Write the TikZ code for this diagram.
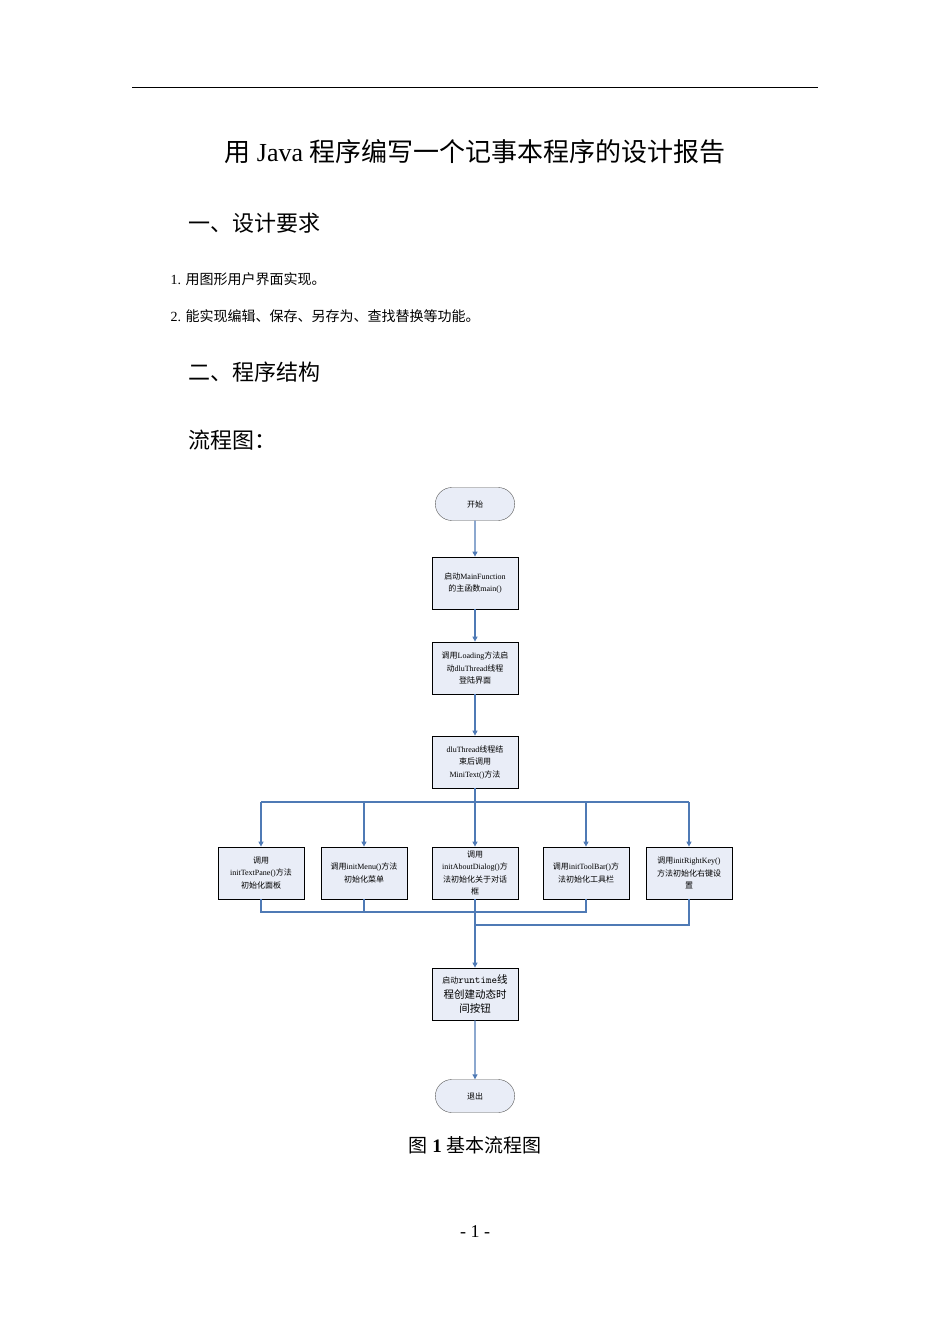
\documentclass[tikz,border=0pt]{standalone}
\usepackage{fontspec}
\setmainfont{Liberation Serif}
\newfontfamily\cjk{Noto Sans CJK SC}
\usetikzlibrary{arrows.meta,shapes.misc}
\newcommand{\LL}[1]{{\rmfamily #1}}
\definecolor{lnc}{HTML}{4F7AB5}
\definecolor{fillc}{HTML}{E9EDF7}
\begin{document}
\begin{tikzpicture}[x=1pt,y=-1pt,
  fl/.style={draw=black,fill=fillc,line width=0.8pt,minimum width=86pt,minimum height=52pt,align=center,font=\cjk\fontsize{8}{12.5}\selectfont,inner sep=1pt},
  term/.style={draw=gray!70!black,fill=fillc,rounded rectangle,minimum width=86pt,minimum height=33pt,font=\cjk\fontsize{8}{10}\selectfont},
  con/.style={draw=lnc,line width=1.1pt},
  arr/.style={con,-{Triangle[width=5pt,length=5pt]}}]
\useasboundingbox (0,0) rectangle (950,1344);
\draw[line width=0.8pt] (132,87) -- (818,87);
\node (title) at (475,152) {\cjk\fontsize{26}{30}\selectfont 用\LL{ Java }程序编写一个记事本程序的设计报告};
\node[anchor=west] (h1) at (185,223) {\cjk\fontsize{22}{26}\selectfont 一、设计要求};
\node[anchor=west] (l1) at (167,279) {\cjk\fontsize{14}{18}\selectfont\LL{1. }用图形用户界面实现。};
\node[anchor=west] (l2) at (167,316) {\cjk\fontsize{14}{18}\selectfont\LL{2. }能实现编辑、保存、另存为、查找替换等功能。};
\node[anchor=west] (h2) at (185,372) {\cjk\fontsize{22}{26}\selectfont 二、程序结构};
\node[anchor=west] (h3) at (185,440) {\cjk\fontsize{22}{26}\selectfont 流程图：};

\node[term] (s) at (475,504) {开始};
\node[fl] (b1) at (475,583) {启动\LL{MainFunction}\\的主函数\LL{main()}};
\node[fl] (b2) at (475,668) {调用\LL{Loading}方法启\\动\LL{dluThread}线程\\登陆界面};
\node[fl] (b3) at (475,762) {\LL{dluThread}线程结\\束后调用\\\LL{MiniText()}方法};
\node[fl] (c1) at (261,873) {调用\\\LL{initTextPane()}方法\\初始化面板};
\node[fl] (c2) at (364,873) {调用\LL{initMenu()}方法\\初始化菜单};
\node[fl] (c3) at (475,873) {调用\\\LL{initAboutDialog()}方\\法初始化关于对话\\框};
\node[fl] (c4) at (586,873) {调用\LL{initToolBar()}方\\法初始化工具栏};
\node[fl] (c5) at (689,873) {调用\LL{initRightKey()}\\方法初始化右键设\\置};
\node[fl,font=\cjk\fontsize{10.5}{14.5}\selectfont] (r) at (475,994) {{\fontsize{8}{10}\selectfont 启动}\texttt{runtime}线\\程创建动态时\\间按钮};
\node[term] (e) at (475,1096) {退出};

\draw[arr] (s) -- (b1);
\draw[arr] (b1) -- (b2);
\draw[arr] (b2) -- (b3);
\coordinate (sp) at (475,802);
\draw[con] (b3) -- (sp);
\draw[con] (261,802) -- (689,802);
\foreach \c in {c1,c2,c3,c4,c5} \draw[arr] (sp -| \c) -- (\c);
\coordinate (m1) at (475,912);
\coordinate (m2) at (475,925);
\draw[con] (c1.south) |- (m1);
\draw[con] (c2.south) -- (c2.south |- m1);
\draw[con] (c4.south) |- (m1);
\draw[con] (c5.south) |- (m2);
\draw[arr] (c3) -- (r);
\draw[arr] (r) -- (e);

\node (cap) at (475,1145) {\cjk\fontsize{19}{22}\selectfont 图\textbf{\LL{ 1 }}基本流程图};
\node (pg) at (475,1232) {\fontsize{18}{20}\selectfont - 1 -};
\end{tikzpicture}
\end{document}
